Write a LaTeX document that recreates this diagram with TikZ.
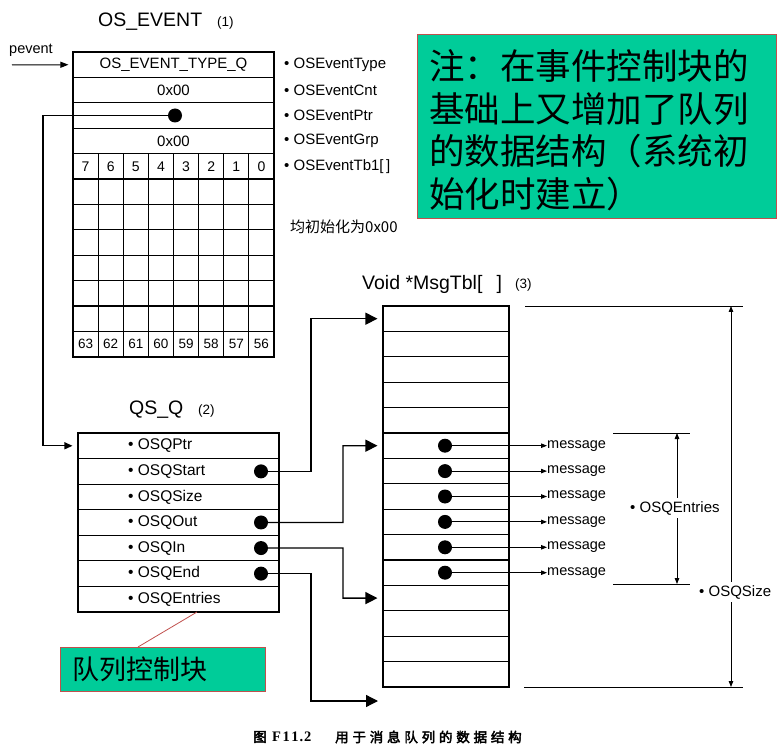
\documentclass[tikz,border=0pt]{standalone}
\usepackage{fontspec}
\setmainfont{Liberation Sans}
\newfontfamily\cjk{Noto Sans CJK SC}
\newfontfamily\cjkb[FakeBold=3]{Noto Sans CJK SC}
\newfontfamily\serifb{Liberation Serif}
\usetikzlibrary{arrows.meta,calc}
\definecolor{notegreen}{HTML}{00CC99}
\definecolor{notered}{HTML}{C0504D}
\begin{document}
\begin{tikzpicture}[x=1pt,y=-1pt,
  every node/.style={inner sep=0pt},
  fa/.style={font=\fontsize{15}{18}\selectfont},
  fb/.style={font=\fontsize{14.5}{17}\selectfont},
  ftitle/.style={font=\fontsize{19.5}{23}\selectfont},
  fnum/.style={font=\fontsize{13.5}{16}\selectfont},
  evrow/.style={draw, line width=1.1pt, minimum width=201pt, minimum height=25.4pt, font=\fontsize{15}{18}\selectfont},
  qrow/.style={draw, line width=1.1pt, minimum width=201pt, minimum height=25.57pt},
  mrow/.style={draw, line width=1.1pt, minimum width=126pt, minimum height=25.4pt},
  outer/.style={line width=1.8pt},
  gridline/.style={line width=1.1pt},
  dot/.style={circle, fill=black, minimum size=14pt, inner sep=0pt},
  conn/.style={line width=1.3pt},
  bigarrow/.style={line width=1.3pt, -{Triangle[length=12pt,width=12pt]}, shorten >=5pt},
  thinarrow/.style={line width=0.9pt, -{Triangle[length=6pt,width=4.5pt]}},
  dimline/.style={line width=0.8pt},
  dimarrow/.style={line width=0.8pt, {Triangle[length=6pt,width=4.5pt]}-{Triangle[length=6pt,width=4.5pt]}},
  notebox/.style={draw=notered, fill=notegreen, line width=0.8pt}
]
\useasboundingbox (0,0) rectangle (780,746);

% ---------- OS_EVENT ----------
\node[ftitle, anchor=west] (evtitle) at (98,22) {OS\_EVENT};
\node[fnum, anchor=west] (evnum) at (217,23) {(1)};
\node[fb, anchor=west] (pevlbl) at (9,50) {pevent};

\node[evrow] (ev1) at (173.5,64.7) {OS\_EVENT\_TYPE\_Q};
\node[evrow] (ev2) at (173.5,90.1) {0x00};
\node[evrow] (ev3) at (173.5,115.5) {};
\node[evrow] (ev4) at (173.5,140.9) {0x00};

\foreach \k in {1,...,7} \draw[gridline] ({73+25.125*\k},154) -- ({73+25.125*\k},357);
\foreach \r in {5,...,11} \draw[gridline] (73,{52+25.4*\r}) -- (274,{52+25.4*\r});
\draw[outer] (73,52) rectangle (274,357);

\foreach \n [count=\j from 0] in {7,6,5,4,3,2,1,0}
  \node[font=\fontsize{14}{16}\selectfont] (tb\j) at ({73+25.125*(\j+0.5)},166.3) {\n};
\foreach \n [count=\j from 0] in {63,62,61,60,59,58,57,56}
  \node[font=\fontsize{13.5}{16}\selectfont] (te\j) at ({73+25.125*(\j+0.5)},344.1) {\n};

\node[fa, anchor=west] (evl1) at (284,64.7) {• OSEventType};
\node[fa, anchor=west] (evl2) at (284,90.1) {• OSEventCnt};
\node[fa, anchor=west] (evl3) at (284,115.5) {• OSEventPtr};
\node[fa, anchor=west] (evl4) at (284,140.9) {• OSEventGrp};
\node[fa, anchor=west] (evl5) at (284,166.3) {• OSEventTb1[\,]};
\node[anchor=west, font=\cjk\fontsize{15}{18}\selectfont] (init) at (290,227) {均初始化为0x00};

\node[dot] (evdot) at (175,115.5) {};
\coordinate (pvstart) at (12,65);
\draw[line width=1pt, -{Triangle[length=8pt,width=6pt]}, shorten >=4pt] (pvstart) -- (ev1.west);

% ---------- note ----------
\node[notebox, anchor=north west, minimum width=359pt, minimum height=184pt] (note) at (417,34) {};
\node[anchor=west, align=left, font=\cjk\fontsize{35.5}{42.5}\selectfont] (notetxt) at (429,130)
  {注：在事件控制块的\\基础上又增加了队列\\的数据结构（系统初\\始化时建立）};

% ---------- QS_Q ----------
\node[ftitle, anchor=west] (qtitle) at (129,410) {QS\_Q};
\node[fnum, anchor=west] (qnum) at (198,411) {(2)};
\foreach \i in {1,...,7} \node[qrow] (q\i) at (178.5,{433+25.57*(\i-0.5)}) {};
\draw[outer] (78,433) rectangle (279,612);
\foreach \i/\t in {1/OSQPtr,2/OSQStart,3/OSQSize,4/OSQOut,5/OSQIn,6/OSQEnd,7/OSQEntries}
  \node[font=\fontsize{15.5}{18}\selectfont, anchor=west] (ql\i) at (128,{433+25.57*(\i-0.5)}) {• \t};
\foreach \i in {2,4,5,6} \node[dot] (qd\i) at (261,{433+25.57*(\i-0.5)}) {};

\coordinate (evbend) at (43,115.5);
\draw[conn, -{Triangle[length=8pt,width=7pt]}, shorten >=5pt] (evdot.center) -- (evbend) |- (q1.west);

% ---------- MsgTbl ----------
\node[font=\fontsize{19.5}{22}\selectfont, anchor=west] (mtitle) at (362,284) {Void *MsgTbl[\ \ \,]};
\node[fnum, anchor=west] (mnum) at (515,285) {(3)};
\foreach \i in {1,...,15} \node[mrow] (m\i) at (446,{306+25.4*(\i-0.5)}) {};
\draw[outer] (383,306) rectangle (509,687);

\foreach \i in {1,...,6} {
  \node[dot] (md\i) at (445,{306+25.4*(\i+4.5)}) {};
  \node[fb, anchor=west] (msg\i) at (547,{306+25.4*(\i+4.5)}) {message};
  \draw[thinarrow] (md\i.center) -- (msg\i.west);
}

% pointer connectors
\coordinate (b1) at (311,318.7);
\coordinate (b2) at (343,445.7);
\coordinate (b3) at (343,598.1);
\coordinate (b4) at (311,701);
\coordinate (mend) at (383,701);
\draw[bigarrow] (qd2.center) -| (b1) -- (m1.west);
\draw[bigarrow] (qd4.center) -| (b2) -- (m6.west);
\draw[bigarrow] (qd5.center) -| (b3) -- (m12.west);
\draw[bigarrow] (qd6.center) -| (b4) -- (mend);

% ---------- dimensions ----------
\coordinate (szt) at (731,306);
\coordinate (szb) at (731,687);
\draw[dimline] (525,306) -- (743,306);
\draw[dimline] (524,687) -- (743,687);
\draw[dimarrow] (szt) -- (szb);
\node[fa, fill=white, anchor=west, inner ysep=3pt] (szl) at (699,592) {• OSQSize};

\coordinate (ent) at (677,433);
\coordinate (enb) at (677,584);
\draw[dimline] (613,433) -- (690,433);
\draw[dimline] (613,584) -- (690,584);
\draw[dimarrow] (ent) -- (enb);
\node[fa, fill=white, anchor=west, inner ysep=3pt] (enl) at (630,508) {• OSQEntries};

% ---------- queue control block ----------
\node[notebox, anchor=north west, minimum width=205pt, minimum height=44pt] (qctl) at (60,647) {};
\node[anchor=west, font=\cjk\fontsize{27}{30}\selectfont] (qctltxt) at (72,669) {队列控制块};
\coordinate (redA) at (197,612);
\coordinate (redB) at (138,647);
\draw[notered, line width=0.8pt] (redA) -- (redB);

% ---------- caption ----------
\node[anchor=west, font=\cjkb\fontsize{13.5}{15}\selectfont] (cap1) at (253,737) {图};
\node[anchor=west, font=\serifb\bfseries\fontsize{14.5}{16}\selectfont] (cap2) at (272,737) {F\hspace{1.5pt}1\hspace{1.5pt}1\hspace{1pt}.\hspace{1pt}2};
\node[anchor=west, font=\cjkb\fontsize{13.5}{15}\selectfont] (cap3) at (335,737)
  {用\hspace{3.8pt}于\hspace{3.8pt}消\hspace{3.8pt}息\hspace{3.8pt}队\hspace{3.8pt}列\hspace{3.8pt}的\hspace{3.8pt}数\hspace{3.8pt}据\hspace{3.8pt}结\hspace{3.8pt}构};
\end{tikzpicture}
\end{document}
